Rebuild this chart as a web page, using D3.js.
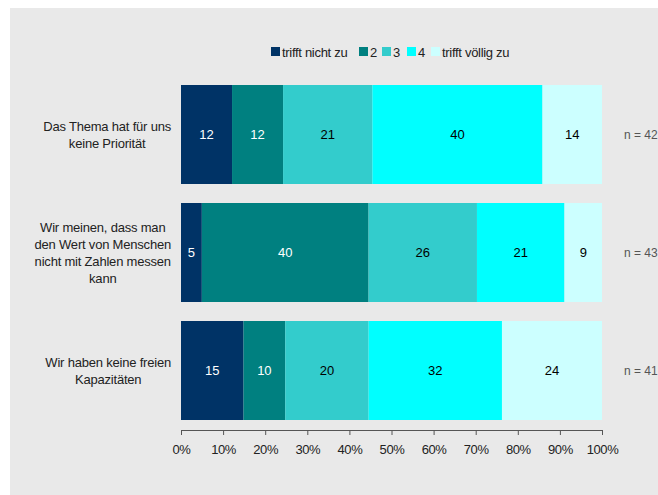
<!DOCTYPE html>
<html>
<head>
<meta charset="utf-8">
<script src="https://cdn.jsdelivr.net/npm/d3@7"></script>
<style>
  html, body { margin: 0; padding: 0; background: #ffffff; }
  svg { display: block; font-family: "Liberation Sans", Arial, sans-serif; }
</style>
</head>
<body>
<svg id="chart" width="658" height="495"></svg>
<script>
// Survey statements (one bar each)
const categories = [
  ["Das Thema hat für uns", "keine Priorität"],
  ["Wir meinen, dass man", "den Wert von Menschen", "nicht mit Zahlen messen", "kann"],
  ["Wir haben keine freien", "Kapazitäten"]
];
// Answer scale
const seriesNames = ["trifft nicht zu", "2", "3", "4", "trifft völlig zu"];
// Percent answering each scale point, per statement
const trifftNichtZu = [12, 5, 15];
const stufe2 = [12, 40, 10];
const stufe3 = [21, 26, 20];
const stufe4 = [40, 21, 32];
const trifftVoelligZu = [14, 9, 24];
// Respondents per statement
const sampleSizes = [42, 43, 41];
const tickValues = [0, 0.1, 0.2, 0.3, 0.4, 0.5, 0.6, 0.7, 0.8, 0.9, 1];

const colors = ["#003366", "#008080", "#33cccc", "#00ffff", "#ccffff"];
const labelColors = ["#ffffff", "#ffffff", "#000000", "#000000", "#000000"];

const seriesValues = [trifftNichtZu, stufe2, stufe3, stufe4, trifftVoelligZu];
const keys = seriesNames;
const rows = categories.map((c, i) => {
  const r = { id: i };
  keys.forEach((k, j) => { r[k] = seriesValues[j][i]; });
  return r;
});

const svg = d3.select("#chart");

// panel background
svg.append("rect")
  .attr("x", 10).attr("y", 8)
  .attr("width", 648).attr("height", 487)
  .attr("fill", "#e9e9e9");

const x = d3.scaleLinear().domain([0, 1]).range([181, 602]);
const y = d3.scaleBand()
  .domain(rows.map(r => r.id))
  .range([85, 420])
  .paddingInner(19 / 118)
  .paddingOuter(0);

const stacked = d3.stack().keys(keys).offset(d3.stackOffsetExpand)(rows);

const layers = svg.append("g").selectAll("g")
  .data(stacked)
  .join("g")
  .attr("fill", (d, i) => colors[i]);

layers.selectAll("rect")
  .data(d => d)
  .join("rect")
  .attr("x", d => x(d[0]))
  .attr("y", d => y(d.data.id))
  .attr("width", d => x(d[1]) - x(d[0]))
  .attr("height", y.bandwidth());

// value labels inside segments
const valueLabels = svg.append("g")
  .attr("font-size", 13)
  .attr("text-anchor", "middle");
stacked.forEach((layer, i) => {
  valueLabels.selectAll(null)
    .data(layer)
    .join("text")
    .attr("x", d => (x(d[0]) + x(d[1])) / 2)
    .attr("y", d => y(d.data.id) + y.bandwidth() / 2)
    .attr("dy", "0.35em")
    .attr("fill", labelColors[i])
    .text(d => d.data[layer.key]);
});

// x axis
const axis = d3.axisBottom(x)
  .tickValues(tickValues)
  .tickFormat(d3.format(".0%"))
  .tickSizeInner(5)
  .tickSizeOuter(5)
  .tickPadding(10);
const gx = svg.append("g")
  .attr("transform", "translate(0,430)")
  .call(axis);
gx.selectAll("path, line").attr("stroke", "#555555");
gx.selectAll("text")
  .attr("font-size", 13)
  .attr("font-family", "\"Liberation Sans\", Arial, sans-serif")
  .attr("fill", "#222222")
  .attr("letter-spacing", "-0.4px");

// category labels, lines centred on the widest line, right edge near the bars
const lineH = 17;
const catG = svg.append("g").attr("font-size", 13).attr("fill", "#222222");
categories.forEach((lines, i) => {
  const g = catG.append("g");
  const cy = y(i) + y.bandwidth() / 2;
  const texts = lines.map((ln, k) => g.append("text")
    .attr("text-anchor", "middle")
    .attr("y", cy + (k - (lines.length - 1) / 2) * lineH)
    .attr("dy", "0.35em")
    .attr("letter-spacing", "-0.2px")
    .text(ln));
  const maxW = d3.max(texts, t => t.node().getComputedTextLength());
  texts.forEach(t => t.attr("x", 171 - maxW / 2));
});

// sample sizes on the right
svg.append("g").attr("font-size", 12).attr("fill", "#555555")
  .selectAll("text")
  .data(sampleSizes)
  .join("text")
  .attr("x", 624)
  .attr("y", (d, i) => y(i) + y.bandwidth() / 2)
  .attr("dy", "0.35em")
  .text(d => "n = " + d);

// legend
const legendX = [271, 359, 382, 407, 431];
const legend = svg.append("g").attr("font-size", 13).attr("fill", "#222222");
seriesNames.forEach((name, i) => {
  legend.append("rect")
    .attr("x", legendX[i]).attr("y", 47)
    .attr("width", 9).attr("height", 9)
    .attr("fill", colors[i]);
  legend.append("text")
    .attr("x", legendX[i] + 11)
    .attr("y", 52)
    .attr("dy", "0.35em")
    .attr("letter-spacing", "-0.3px")
    .text(name);
});
</script>
</body>
</html>
